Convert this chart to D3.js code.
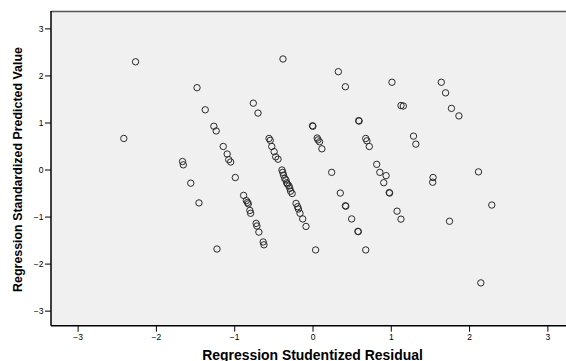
<!DOCTYPE html>
<html><head><meta charset="utf-8">
<script src="https://cdn.jsdelivr.net/npm/d3@7"></script>
<style>body{margin:0;background:#fff;}svg{display:block;}</style>
</head><body>
<svg id="c" width="566" height="361"></svg>
<script>
const residual = [-2.41,-2.26,-1.475,-1.37,-1.26,-1.23,-1.14,-1.09,-1.07,-1.045,-1.66,-1.65,-1.555,-1.45,-1.22,-0.986,
 -0.377,-0.756,-0.696,-0.555,-0.54,-0.52,-0.49,-0.47,-0.44,
 -0.39,-0.38,-0.37,-0.355,-0.34,-0.33,-0.32,-0.30,-0.29,-0.28,-0.26,
 -0.21,-0.19,-0.18,-0.16,-0.125,-0.083,
 -0.88,-0.845,-0.83,-0.82,-0.80,-0.79,-0.72,-0.71,-0.685,-0.63,-0.62,
 0.0,0.005,0.06,0.07,0.09,0.12,0.33,0.42,0.245,0.59,0.595,0.68,0.695,0.725,
 0.82,0.86,0.94,0.91,0.98,0.985,1.015,1.13,1.16,1.29,1.32,1.645,1.70,1.775,1.87,
 2.12,1.54,1.535,2.29,1.75,2.15,1.08,1.13,0.04,0.355,0.42,0.425,0.50,0.58,0.585,0.68];
const predicted = [0.66,2.29,1.74,1.27,0.92,0.82,0.49,0.33,0.21,0.16,0.17,0.10,-0.29,-0.71,-1.69,-0.17,
 2.35,1.41,1.20,0.66,0.62,0.49,0.38,0.27,0.22,
 -0.01,-0.06,-0.12,-0.19,-0.22,-0.28,-0.31,-0.35,-0.40,-0.46,-0.51,
 -0.72,-0.79,-0.84,-0.93,-1.05,-1.21,
 -0.55,-0.66,-0.70,-0.73,-0.87,-0.93,-1.145,-1.20,-1.33,-1.54,-1.60,
 0.93,0.92,0.67,0.63,0.59,0.44,2.08,1.76,-0.06,1.04,1.03,0.66,0.61,0.49,
 0.11,-0.06,-0.13,-0.28,-0.49,-0.50,1.855,1.36,1.35,0.71,0.54,1.855,1.63,1.30,1.14,
 -0.05,-0.17,-0.27,-0.755,-1.10,-2.41,-0.885,-1.055,-1.71,-0.50,-0.77,-0.78,-1.05,-1.315,-1.32,-1.71];
const xTicks = [-3,-2,-1,0,1,2,3];
const yTicks = [-3,-2,-1,0,1,2,3];
const xTitle = "Regression Studentized Residual";
const yTitle = "Regression Standardized Predicted Value";

const svg = d3.select("#c");
const L = 51, R = 574, T = 11, B = 325.7;
const x = d3.scaleLinear().domain([-3.34, 3.34]).range([L, R]);
const y = d3.scaleLinear().domain([-3.32, 3.37]).range([B, T]);
const FONT = "Liberation Sans, Arial, sans-serif";

svg.append("rect").attr("x", L).attr("y", T).attr("width", R - L).attr("height", B - T).attr("fill", "#f0f0f0");
svg.append("line").attr("x1", L).attr("x2", R).attr("y1", T + 0.5).attr("y2", T + 0.5).attr("stroke", "#555").attr("stroke-width", 1.4);

const xa = svg.append("g").attr("transform", `translate(0,${B})`)
  .call(d3.axisBottom(x).tickValues(xTicks).tickSize(6).tickPadding(2).tickFormat(d3.format("d")));
const ya = svg.append("g").attr("transform", `translate(${L},0)`)
  .call(d3.axisLeft(y).tickValues(yTicks).tickSize(6).tickPadding(1.5).tickFormat(d3.format("d")));
[xa, ya].forEach(g => {
  g.select(".domain").attr("stroke", "#000").attr("stroke-width", 1.5);
  g.selectAll(".tick line").attr("stroke", "#000");
  g.selectAll(".tick text").attr("fill", "#000").style("font-family", FONT).style("font-size", "8.5px");
});
xa.select(".domain").attr("d", `M${L},0H${R}`);
ya.select(".domain").attr("d", `M0,${T}V${B}`);

svg.append("g").selectAll("circle").data(residual.map((r, i) => [r, predicted[i]])).join("circle")
  .attr("cx", d => x(d[0])).attr("cy", d => y(d[1])).attr("r", 3.2)
  .attr("fill", "none").attr("stroke", "#2a2a2a").attr("stroke-width", 1);

function fitText(sel, target) {
  sel.style("font-size", "12px");
  const w = sel.node().getComputedTextLength();
  sel.style("font-size", (12 * target / w) + "px");
}
const xt = svg.append("text").attr("x", x(0)).attr("y", 359.5).attr("text-anchor", "middle")
  .style("font-family", FONT).style("font-weight", "bold").attr("fill", "#000").text(xTitle);
fitText(xt, 221);
const yt = svg.append("text").attr("transform", `translate(22,169.5) rotate(-90)`).attr("text-anchor", "middle")
  .style("font-family", FONT).style("font-weight", "bold").attr("fill", "#000").text(yTitle);
fitText(yt, 245);
</script>
</body></html>
